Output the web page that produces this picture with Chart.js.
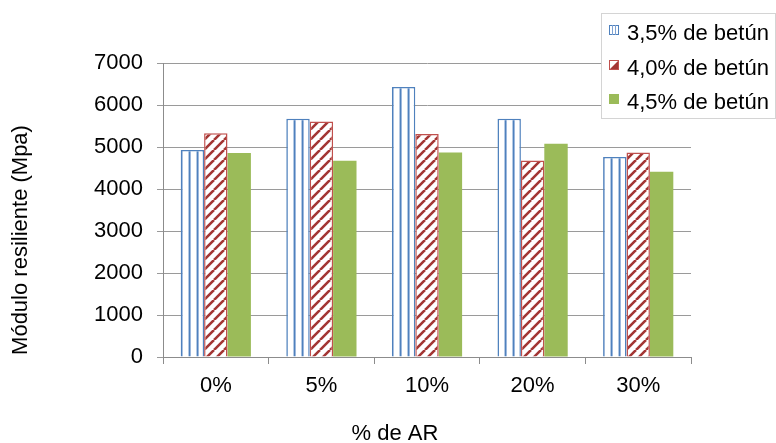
<!DOCTYPE html>
<html>
<head>
<meta charset="utf-8">
<script src="https://cdn.jsdelivr.net/npm/chart.js@4/dist/chart.umd.min.js"></script>
<style>
  html, body { margin: 0; padding: 0; background: #fff; }
  #wrap { width: 776px; height: 443px; position: relative; }
</style>
</head>
<body>
<div id="wrap"><canvas id="c" width="776" height="443"></canvas></div>
<script>
// Resilient modulus by asphalt-rubber content, for three binder contents
const categories = ['0%', '5%', '10%', '20%', '30%'];
const seriesNames = ['3,5% de betún', '4,0% de betún', '4,5% de betún'];
const betun35 = [4930, 5670, 6430, 5670, 4760];
const betun40 = [5330, 5610, 5310, 4680, 4870];
const betun45 = [4860, 4670, 4870, 5080, 4410];
const yMin = 0, yMax = 7000, yStep = 1000;
const xTitle = '% de AR';
const yTitle = 'Módulo resiliente (Mpa)';

const FONT = '"Liberation Sans", Arial, sans-serif';
const BLUE = '#4F81BD', RED = '#C0504D', RED_DARK = '#A33634', GREEN = '#9BBB59';
const CAT_PCT = 0.665;

// vertical stripe fill (3,5%)
function makeStripeTile() {
  const t = document.createElement('canvas');
  t.width = 8; t.height = 4;
  const g = t.getContext('2d');
  g.fillStyle = '#ffffff'; g.fillRect(0, 0, 8, 4);
  g.fillStyle = '#B4C9E4'; g.fillRect(7, 0, 1, 4);
  g.fillStyle = BLUE; g.fillRect(0, 0, 1, 4);
  g.fillStyle = '#9DB8DD'; g.fillRect(1, 0, 1, 4);
  return t;
}
// diagonal hatch fill (4,0%)
function makeHatchTile() {
  const s = 10;
  const t = document.createElement('canvas');
  t.width = s; t.height = s;
  const g = t.getContext('2d');
  g.fillStyle = '#ffffff'; g.fillRect(0, 0, s, s);
  g.strokeStyle = RED_DARK; g.lineWidth = 2.6;
  g.beginPath();
  for (const x0 of [-s, 0, s]) { g.moveTo(x0, s); g.lineTo(x0 + s, 0); }
  g.stroke();
  return t;
}
const stripeTile = makeStripeTile();
const hatchTile = makeHatchTile();

// pattern anchored on the left edge of each bar
function patternFor(tile, dsIndex) {
  return function (ctx) {
    const chart = ctx.chart;
    const xs = chart.scales && chart.scales.x;
    const p = chart.ctx.createPattern(tile, 'repeat');
    if (!xs || ctx.type !== 'data' || !xs.width) return p;
    const catW = xs.width / categories.length;
    const barW = catW * CAT_PCT / 3;
    const left = xs.getPixelForValue(ctx.dataIndex) - 1.5 * barW + dsIndex * barW;
    p.setTransform(new DOMMatrix().translate(Math.round(left), 0));
    return p;
  };
}

const labelsPlugin = {
  id: 'labelsAndKey',
  afterDraw(chart) {
    const c = chart.ctx;
    c.save();
    // axis titles
    c.fillStyle = '#000';
    c.font = '22px ' + FONT;
    c.textAlign = 'center';
    c.textBaseline = 'middle';
    c.fillText(xTitle, 395, 434);
    c.save();
    c.translate(21, 240);
    c.rotate(-Math.PI / 2);
    c.fillText(yTitle, 0, 0);
    c.restore();

    // key box
    c.fillStyle = '#ffffff';
    c.fillRect(601, 13, 175, 106);
    c.strokeStyle = '#D4D4D4';
    c.lineWidth = 1;
    c.strokeRect(601.5, 13.5, 174, 105);

    const baselines = [39.5, 74.5, 109];
    const sx = 609, sz = 10;
    baselines.forEach((b, i) => {
      const sy = Math.round(b - 15);
      if (i === 0) {
        c.fillStyle = '#fff'; c.fillRect(sx, sy, sz, sz);
        c.strokeStyle = BLUE; c.lineWidth = 1;
        c.strokeRect(sx + 0.5, sy + 0.5, sz - 1, sz - 1);
        c.fillStyle = '#7FA3D3';
        c.fillRect(sx + 3, sy, 1, sz);
        c.fillRect(sx + 6, sy, 1, sz);
      } else if (i === 1) {
        c.fillStyle = '#fff'; c.fillRect(sx, sy, sz, sz);
        c.fillStyle = RED_DARK;
        c.beginPath();
        c.moveTo(sx + sz, sy); c.lineTo(sx + sz, sy + sz); c.lineTo(sx, sy + sz);
        c.closePath(); c.fill();
        c.strokeStyle = RED; c.lineWidth = 1;
        c.strokeRect(sx + 0.5, sy + 0.5, sz - 1, sz - 1);
      } else {
        c.fillStyle = GREEN; c.fillRect(sx, sy, sz, sz);
      }
      c.fillStyle = '#000';
      c.font = '22px ' + FONT;
      c.textAlign = 'left';
      c.textBaseline = 'alphabetic';
      c.fillText(seriesNames[i], 627, b);
    });
    c.restore();
  }
};

new Chart(document.getElementById('c'), {
  type: 'bar',
  data: {
    labels: categories,
    datasets: [
      { label: seriesNames[0], data: betun35, backgroundColor: patternFor(stripeTile, 0),
        borderColor: BLUE, borderWidth: 1.5 },
      { label: seriesNames[1], data: betun40, backgroundColor: patternFor(hatchTile, 1),
        borderColor: RED, borderWidth: 1.5 },
      { label: seriesNames[2], data: betun45, backgroundColor: GREEN,
        borderColor: GREEN, borderWidth: 0 }
    ]
  },
  options: {
    responsive: false,
    animation: false,
    devicePixelRatio: 1,
    layout: { padding: { left: 0, right: 85, top: 63, bottom: 0 } },
    datasets: { bar: { categoryPercentage: CAT_PCT, barPercentage: 1 } },
    plugins: { legend: { display: false }, tooltip: { enabled: false } },
    scales: {
      x: {
        afterFit(s) { s.height = 86; },
        grid: { display: true, drawOnChartArea: false, drawTicks: true, tickLength: 7,
                color: '#8C8C8C', offset: true },
        border: { color: '#8C8C8C', width: 1 },
        ticks: { color: '#000', font: { family: FONT, size: 22 }, padding: 9 }
      },
      y: {
        min: yMin, max: yMax,
        afterFit(s) { s.width = 163; },
        grid: { color: '#9A9A9A', lineWidth: 1, drawTicks: true, tickLength: 6 },
        border: { color: '#8C8C8C', width: 1 },
        ticks: { stepSize: yStep, color: '#000', font: { family: FONT, size: 22 }, padding: 14,
                 callback: (v) => String(v) }
      }
    }
  },
  plugins: [labelsPlugin]
});
</script>
</body>
</html>
